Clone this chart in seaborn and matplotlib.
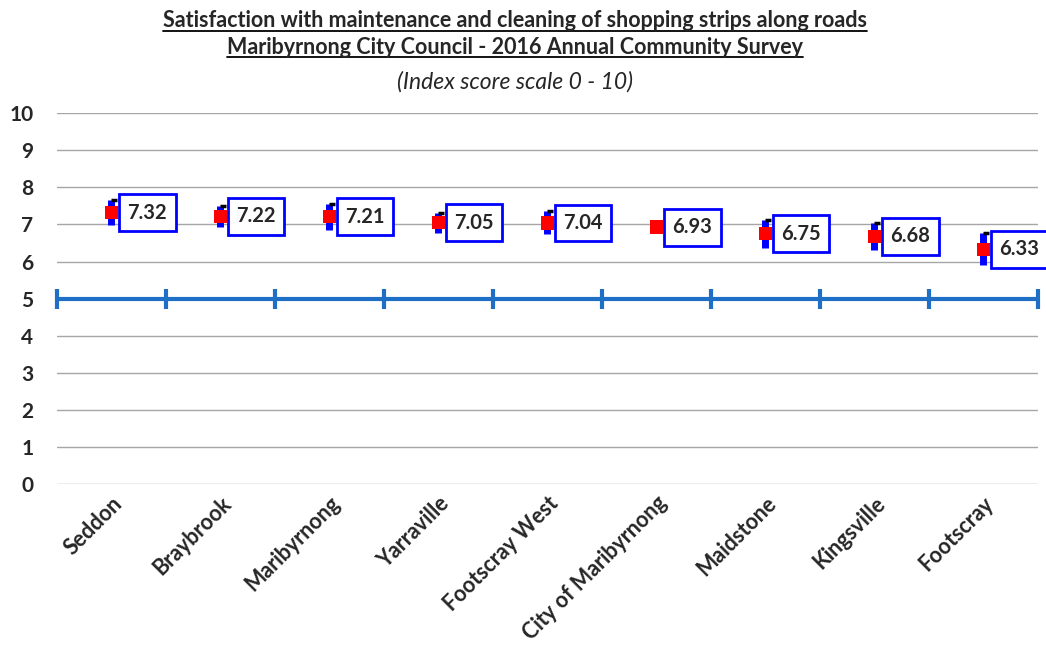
import numpy as np
import pandas as pd
import matplotlib.pyplot as plt
import matplotlib.transforms as mtransforms
import seaborn as sns

suburbs = ["Seddon", "Braybrook", "Maribyrnong", "Yarraville", "Footscray West",
           "City of Maribyrnong", "Maidstone", "Kingsville", "Footscray"]
scores = [7.32, 7.22, 7.21, 7.05, 7.04, 6.93, 6.75, 6.68, 6.33]
margins = [0.33, 0.28, 0.35, 0.27, 0.31, 0.09, 0.38, 0.37, 0.43]
benchmark = 5

pos = np.arange(len(suburbs))
df = pd.DataFrame({"pos": pos, "suburb": suburbs, "score": scores, "moe": margins})

sns.set_style("white")
plt.rcParams["font.family"] = ["Lato", "DejaVu Sans"]

fig = plt.figure(figsize=(10.46, 6.5), dpi=100)
ax = fig.add_axes([0.0545, 0.255, 0.9375, 0.571])

# gridlines
for v in range(0, 11):
    ax.axhline(v, color="#a6a6a6", lw=1, zorder=0)

# benchmark line with tick marks at category boundaries
ax.axhline(benchmark, color="#1f6fc6", lw=3, zorder=1)
ax.plot(np.arange(len(suburbs) + 1) - 0.5, [benchmark] * (len(suburbs) + 1),
        ls="none", marker="|", ms=14, mew=3, color="#1f6fc6", zorder=1, clip_on=False)

# error bars
ax.errorbar(df["pos"], df["score"], yerr=df["moe"], fmt="none", ecolor="#0000ff",
            elinewidth=5, zorder=2)
cap_off = mtransforms.offset_copy(ax.transData, fig=fig, x=3, y=0, units="dots")
ax.plot(df["pos"], df["score"] + df["moe"], ls="none", marker="_", ms=5, mew=2.5,
        color="black", transform=cap_off, zorder=3)

sns.scatterplot(data=df, x="pos", y="score", marker="s", s=90, color="#ff0000",
                edgecolor="none", linewidth=0, zorder=4, ax=ax)

# value labels
lab_off = mtransforms.offset_copy(ax.transData, fig=fig, x=16, y=0, units="dots")
for i, s in enumerate(scores):
    ax.text(i, s, f"{s:.2f}", transform=lab_off, ha="left", va="center",
            fontsize=14.5, fontweight="bold",
            bbox=dict(boxstyle="square,pad=0.42", fc="white", ec="#0000ff", lw=2),
            zorder=5)

ax.set_xlim(-0.5, len(suburbs) - 0.5)
ax.set_ylim(0, 10)
ax.set_yticks(range(0, 11))
ax.set_yticklabels([str(v) for v in range(0, 11)], fontsize=15, fontweight="bold")
ax.set_xticks(pos)
ax.set_xticklabels(suburbs, rotation=45, ha="right", rotation_mode="anchor",
                   fontsize=15.5, fontweight="bold")
ax.tick_params(axis="y", length=0, pad=17)
ax.tick_params(axis="x", length=0, pad=6)
ax.set_xlabel("")
ax.set_ylabel("")
for sp in ax.spines.values():
    sp.set_visible(False)

t1 = fig.text(0.492, 0.968, "Satisfaction with maintenance and cleaning of shopping strips along roads",
              ha="center", va="center", fontsize=15.5, fontweight="bold")
t2 = fig.text(0.492, 0.927, "Maribyrnong City Council - 2016 Annual Community Survey",
              ha="center", va="center", fontsize=15.5, fontweight="bold")
fig.text(0.492, 0.874, "(Index score scale 0 - 10)", ha="center", va="center",
         fontsize=16.5, fontstyle="italic")

# underline the title lines
fig.canvas.draw()
rend = fig.canvas.get_renderer()
for t in (t1, t2):
    bb = t.get_window_extent(renderer=rend).transformed(fig.transFigure.inverted())
    fig.add_artist(plt.Line2D([bb.x0, bb.x1], [bb.y0 + 0.001, bb.y0 + 0.001],
                              color="black", lw=1.3, transform=fig.transFigure))

fig.savefig("out.png", dpi=100)
